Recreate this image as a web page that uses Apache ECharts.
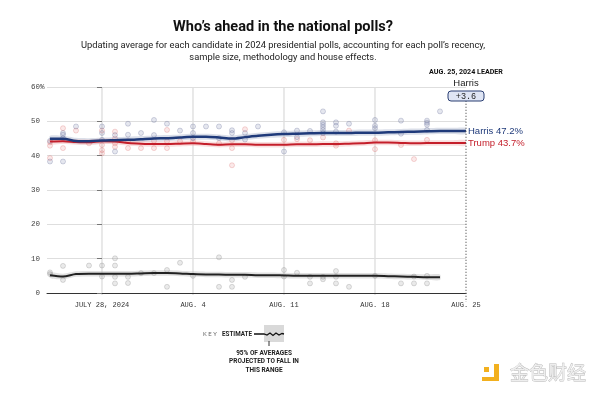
<!DOCTYPE html>
<html><head><meta charset="utf-8">
<script src="https://cdn.jsdelivr.net/npm/echarts@6/dist/echarts.min.js"></script>
<style>html,body{margin:0;padding:0;background:#fff}#c{width:600px;height:395px}</style>
</head><body><div id="c"></div>
<script>
// ---------- DATA ----------
const lineDates = ['2024-07-24','2024-07-25','2024-07-26','2024-07-27','2024-07-28','2024-07-29','2024-07-30','2024-07-31',
  '2024-08-01','2024-08-02','2024-08-03','2024-08-04','2024-08-05','2024-08-06','2024-08-07','2024-08-08','2024-08-09',
  '2024-08-10','2024-08-11','2024-08-12','2024-08-13','2024-08-14','2024-08-15','2024-08-16','2024-08-17','2024-08-18',
  '2024-08-19','2024-08-20','2024-08-21','2024-08-22','2024-08-23','2024-08-24','2024-08-25'];
const harrisAvg = [44.9,44.9,44.3,44.2,44.4,44.5,44.6,44.8,45.0,45.1,45.3,45.5,45.5,45.3,45.0,45.4,45.8,
  46.1,46.3,46.4,46.5,46.6,46.6,46.6,46.7,46.7,46.8,46.9,47.0,47.1,47.2,47.2,47.2];
const trumpAvg = [44.1,44.2,44.0,43.9,44.2,44.1,43.7,43.5,43.4,43.4,43.5,43.6,43.4,43.2,43.3,43.3,43.2,
  43.2,43.2,43.3,43.3,43.4,43.4,43.5,43.6,43.8,43.8,43.7,43.6,43.7,43.7,43.7,43.7];
const otherDates = lineDates.slice(0, 31);
const otherAvg = [5.2,4.8,5.5,5.6,5.6,5.6,5.6,5.7,5.8,5.8,5.7,5.5,5.4,5.4,5.3,5.3,5.2,5.2,5.1,5.0,
  5.0,5.0,5.0,5.0,5.0,5.0,4.9,4.8,4.7,4.6,4.6];
const harrisMargin = 0.9, trumpMargin = 0.8, otherMargin = 0.8;
const harrisPolls = [['2024-07-24',44.3],['2024-07-24',38.3],['2024-07-25',46.6],['2024-07-25',46.1],['2024-07-25',45.1],
  ['2024-07-25',38.3],['2024-07-26',48.5],['2024-07-28',48.5],['2024-07-28',46.6],['2024-07-28',44.6],['2024-07-29',46.0],
  ['2024-07-29',41.2],['2024-07-30',49.3],['2024-07-30',46.1],['2024-07-31',46.6],['2024-08-01',50.4],['2024-08-01',46.0],
  ['2024-08-02',49.3],['2024-08-03',47.3],['2024-08-04',48.5],['2024-08-04',46.6],['2024-08-04',45.1],['2024-08-05',48.5],
  ['2024-08-06',48.5],['2024-08-06',45.1],['2024-08-07',47.4],['2024-08-07',46.6],['2024-08-08',44.7],['2024-08-08',46.6],
  ['2024-08-09',48.5],['2024-08-11',46.8],['2024-08-11',41.2],['2024-08-12',47.3],['2024-08-12',45.4],['2024-08-13',47.2],
  ['2024-08-14',52.9],['2024-08-14',49.7],['2024-08-14',49.0],['2024-08-14',48.3],['2024-08-14',47.5],['2024-08-14',46.6],
  ['2024-08-15',49.7],['2024-08-15',48.7],['2024-08-15',47.0],['2024-08-16',49.3],['2024-08-18',50.4],['2024-08-18',48.7],
  ['2024-08-18',48.0],['2024-08-20',50.2],['2024-08-20',46.4],['2024-08-22',50.2],['2024-08-22',49.6],['2024-08-22',49.0],
  ['2024-08-22',47.5],['2024-08-23',52.9]];
const trumpPolls = [['2024-07-24',42.9],['2024-07-24',39.3],['2024-07-24',43.9],['2024-07-25',48.0],['2024-07-25',42.2],
  ['2024-07-26',47.3],['2024-07-27',43.6],['2024-07-28',47.3],['2024-07-28',43.1],['2024-07-28',41.6],['2024-07-28',40.7],
  ['2024-07-29',47.0],['2024-07-29',45.0],['2024-07-29',43.6],['2024-07-29',42.6],['2024-07-30',44.2],['2024-07-30',42.2],
  ['2024-07-31',42.2],['2024-08-01',44.3],['2024-08-01',42.2],['2024-08-02',47.5],['2024-08-02',44.2],['2024-08-02',42.2],
  ['2024-08-03',44.2],['2024-08-04',44.2],['2024-08-06',43.6],['2024-08-07',44.5],['2024-08-07',42.2],['2024-08-07',37.2],
  ['2024-08-08',47.7],['2024-08-11',44.6],['2024-08-12',44.8],['2024-08-13',44.5],['2024-08-14',45.3],['2024-08-15',43.6],
  ['2024-08-15',42.9],['2024-08-16',47.3],['2024-08-18',44.5],['2024-08-18',41.9],['2024-08-20',43.1],['2024-08-21',39.0],
  ['2024-08-22',44.6]];
const otherPolls = [['2024-07-24',5.5],['2024-07-24',6.0],['2024-07-25',7.9],['2024-07-25',3.8],['2024-07-27',8.0],
  ['2024-07-28',8.0],['2024-07-28',4.8],['2024-07-29',10.1],['2024-07-29',8.0],['2024-07-29',4.7],['2024-07-29',2.8],
  ['2024-07-30',4.7],['2024-07-30',2.9],['2024-07-31',5.8],['2024-08-01',5.8],['2024-08-02',6.7],['2024-08-02',1.8],
  ['2024-08-03',8.8],['2024-08-04',5.0],['2024-08-06',10.4],['2024-08-06',1.8],['2024-08-07',3.8],['2024-08-07',1.8],
  ['2024-08-08',4.7],['2024-08-11',6.7],['2024-08-11',4.8],['2024-08-12',5.9],['2024-08-13',4.7],['2024-08-13',2.8],
  ['2024-08-14',4.7],['2024-08-14',4.0],['2024-08-15',6.4],['2024-08-15',4.7],['2024-08-15',2.8],['2024-08-16',1.8],
  ['2024-08-18',5.0],['2024-08-20',2.8],['2024-08-21',4.8],['2024-08-21',2.8],['2024-08-22',5.0],['2024-08-22',2.8]];
const weekTicks = ['2024-07-28','2024-08-04','2024-08-11','2024-08-18','2024-08-25'];
const weekLabels = ['JULY 28, 2024','AUG. 4','AUG. 11','AUG. 18','AUG. 25'];
const yTickLabels = ['0','10','20','30','40','50','60'];
const leaderDate = 'AUG. 25, 2024 LEADER';
const leaderName = 'Harris';
const leaderMargin = '+3.6';

// ---------- HELPERS ----------
const DAY = 86400000;
const utc = s => Date.UTC(+s.slice(0,4), +s.slice(5,7)-1, +s.slice(8,10));
const base = utc(weekTicks[0]);
const dx = s => Math.round((utc(s) - base) / DAY);   // day number, July 28 = 0
const weekX = weekTicks.map(dx);
const NAVY = '#1f3a7a', RED = '#c41e2a';
const SANS = 'Roboto';

// fit font size so a text gets a target width (layout only)
const mctx = document.createElement('canvas').getContext('2d');
function fitSize(text, weight, target, family) {
  mctx.font = weight + ' 20px ' + (family || SANS);
  return 20 * target / mctx.measureText(text).width;
}

function bandSeries(dates, avg, m, color) {
  const xs = dates.map(dx);
  return { type:'custom', silent:true, z:1, clip:true,
    encode:{x:0, y:[1,2]},
    data: dates.map((d,i)=>[xs[i], avg[i]-m, avg[i]+m]),
    renderItem: (params, api) => {
      if (params.dataIndex !== 0) return null;
      const pts = [];
      for (let i=0;i<xs.length;i++) pts.push(api.coord([xs[i], avg[i]+m]));
      for (let i=xs.length-1;i>=0;i--) pts.push(api.coord([xs[i], avg[i]-m]));
      return { type:'polygon', shape:{points:pts, smooth:0.25}, style:{fill:color} };
    } };
}
function dots(list, fill, border) {
  return { type:'scatter', symbol:'circle', symbolSize:5, z:2, silent:true,
    itemStyle:{color:fill, borderColor:border, borderWidth:0.8},
    data: list.map(p=>[dx(p[0]), p[1]]) };
}
function avgLine(dates, avg, color, width, name) {
  const s = { type:'line', symbol:'none', smooth:0.3, z:5, silent:true, clip:false,
    lineStyle:{color, width}, data: dates.map((d,i)=>[dx(d), avg[i]]) };
  if (name) {
    s.endLabel = { show:true, distance:2, color, fontFamily:'Liberation Sans', fontSize:9.5,
      formatter: p => name + ' ' + p.value[1].toFixed(1) + '%' };
  }
  return s;
}

const chart = echarts.init(document.getElementById('c'), null, {renderer:'canvas'});
const option = {
  animation: false,
  backgroundColor: '#fff',
  grid: { left:47, right:134, top:87, bottom:102 },
  xAxis: {
    type:'value', min: dx(lineDates[0]) - 0.23, max: weekX[weekX.length-1],
    axisLine:{show:true, onZero:false, lineStyle:{color:'#333', width:1}},
    axisTick:{show:false}, splitLine:{show:false},
    axisLabel:{ customValues: weekX, formatter: v => { const i = weekX.indexOf(Math.round(v)); return i>=0 ? weekLabels[i] : ''; },
      fontFamily:'Liberation Mono', fontSize:7, color:'#333', margin:9, hideOverlap:false, showMinLabel:true, showMaxLabel:true }
  },
  yAxis: {
    type:'value', min:0, max:60, interval:10,
    axisLine:{show:false},
    axisTick:{show:true, length:5, lineStyle:{color:'#777'}},
    splitLine:{lineStyle:{color:'#dedede'}},
    axisLabel:{ formatter: v => yTickLabels[Math.round(v/10)], align:'right', margin:7,
      fontFamily:'Liberation Mono', fontSize:7.5, color:'#444' }
  },
  series: [
    bandSeries(lineDates, harrisAvg, harrisMargin, 'rgba(165,175,200,0.40)'),
    bandSeries(lineDates, trumpAvg, trumpMargin, 'rgba(240,170,170,0.38)'),
    bandSeries(otherDates, otherAvg, otherMargin, 'rgba(180,180,180,0.40)'),
    dots(otherPolls, 'rgba(150,150,150,0.25)', 'rgba(120,120,120,0.40)'),
    dots(trumpPolls, 'rgba(230,130,130,0.22)', 'rgba(215,100,100,0.40)'),
    dots(harrisPolls, 'rgba(125,135,175,0.25)', 'rgba(100,110,150,0.45)'),
    avgLine(otherDates, otherAvg, '#222', 2),
    avgLine(lineDates, trumpAvg, RED, 2, 'Trump'),
    avgLine(lineDates, harrisAvg, NAVY, 2.5, 'Harris')
  ]
};
chart.setOption(option);

// ---------- ANNOTATIONS (positions from axis scale) ----------
const P = (x, v) => chart.convertToPixel({gridIndex:0}, [x, v]);
const g = [];
weekX.slice(0,4).forEach(x => {
  const a = P(x, 60), b = P(x, 0);
  g.push({ type:'line', z:-1, silent:true, shape:{x1:a[0], y1:a[1], x2:b[0], y2:b[1]+2},
    style:{stroke:'#d2d2d2', lineWidth:1} });
});
const lastX = dx(lineDates[lineDates.length-1]);
const pTop = P(lastX, 56), pBot = P(lastX, 0);
const lx = pTop[0];
g.push({ type:'line', z:10, silent:true, shape:{x1:lx, y1:pTop[1], x2:lx, y2:pBot[1]+9},
  style:{stroke:'#555', lineWidth:1, lineDash:[1.2,1.8]} });
const p60 = P(0, 60);
g.push({ type:'text', z:10, style:{ text:'%', x:40, y:p60[1], textAlign:'left', textVerticalAlign:'middle',
  fontFamily:'Liberation Mono', fontSize:7.5, fill:'#444' } });
// titles
const titleText = 'Who’s ahead in the national polls?';
const sub1 = 'Updating average for each candidate in 2024 presidential polls, accounting for each poll’s recency,';
const sub2 = 'sample size, methodology and house effects.';
g.push({ type:'text', style:{ text:titleText, x:283, y:27, textAlign:'center', textVerticalAlign:'middle',
  fontFamily:SANS, fontWeight:'bold', fontSize:fitSize(titleText,'bold',220), fill:'#111' } });
const subSize = fitSize(sub1,'normal',405);
g.push({ type:'text', style:{ text:sub1, x:283, y:46, textAlign:'center', textVerticalAlign:'middle',
  fontFamily:SANS, fontSize:subSize, fill:'#222' } });
g.push({ type:'text', style:{ text:sub2, x:283, y:58, textAlign:'center', textVerticalAlign:'middle',
  fontFamily:SANS, fontSize:subSize, fill:'#222' } });
// leader box
g.push({ type:'text', z:11, style:{ text:leaderDate, x:lx, y:72.5, textAlign:'center', textVerticalAlign:'middle',
  fontFamily:SANS, fontWeight:'bold', fontSize:fitSize(leaderDate,'bold',74), fill:'#111' } });
g.push({ type:'text', z:11, style:{ text:leaderName, x:lx, y:83, textAlign:'center', textVerticalAlign:'middle',
  fontFamily:'Liberation Sans', fontSize:9.5, fill:'#222' } });
g.push({ type:'rect', z:11, shape:{x:lx-18, y:91, width:36, height:10, r:3},
  style:{fill:'#dfe5f4', stroke:'#2b3f73', lineWidth:1} });
g.push({ type:'text', z:12, style:{ text:leaderMargin, x:lx, y:96.3, textAlign:'center', textVerticalAlign:'middle',
  fontFamily:'Liberation Mono', fontSize:8.5, fill:'#222' } });
// key
g.push({ type:'text', style:{ text:'K E Y', x:203, y:334, textAlign:'left', textVerticalAlign:'middle',
  fontFamily:SANS, fontSize:6, fill:'#666' } });
g.push({ type:'text', style:{ text:'ESTIMATE', x:222, y:334, textAlign:'left', textVerticalAlign:'middle',
  fontFamily:SANS, fontWeight:'bold', fontSize:fitSize('ESTIMATE','bold',30), fill:'#222' } });
g.push({ type:'rect', shape:{x:264, y:325, width:20, height:17}, style:{fill:'rgba(170,170,170,0.45)'} });
g.push({ type:'polyline', shape:{points:[[254,334],[264,334],[267,335],[270,333],[273,335.5],[276,333],[279,335],[282,333.5],[284,334]]},
  style:{stroke:'#111', lineWidth:1.3, fill:null} });
g.push({ type:'line', shape:{x1:269, y1:341, x2:269, y2:346}, style:{stroke:'#333', lineWidth:1} });
const keyLines = ['95% OF AVERAGES','PROJECTED TO FALL IN','THIS RANGE'];
const keySize = fitSize(keyLines[1],'bold',70);
keyLines.forEach((t,i) => {
  g.push({ type:'text', style:{ text:t, x:264, y:353+i*8.5, textAlign:'center', textVerticalAlign:'middle',
    fontFamily:SANS, fontWeight:'bold', fontSize:keySize, fill:'#222' } });
});
// watermark
g.push({ type:'rect', shape:{x:484, y:367, width:5, height:5}, style:{fill:'#f2b01e'} });
g.push({ type:'rect', shape:{x:494, y:364, width:5, height:16}, style:{fill:'#f2b01e'} });
g.push({ type:'rect', shape:{x:482, y:377, width:17, height:4}, style:{fill:'#f2b01e'} });
g.push({ type:'text', style:{ text:'金色财经', x:510, y:373, textAlign:'left', textVerticalAlign:'middle',
  fontFamily:'Noto Sans CJK SC', fontSize:19, fill:'#eeeeee', stroke:'#b8b8b8', lineWidth:0.8 } });
chart.setOption({ graphic: g });
</script></body></html>
